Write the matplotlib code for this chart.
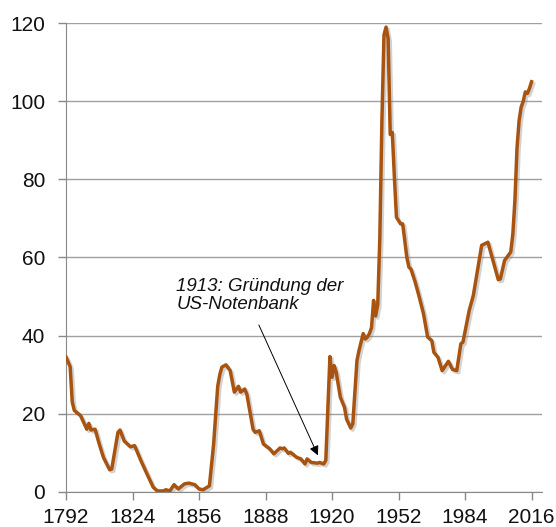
import matplotlib.pyplot as plt
import matplotlib.patheffects as pe

plt.rcParams['font.family'] = ['Liberation Sans', 'DejaVu Sans']

# Staatsverschuldung USA in % des BIP
years = [1792, 1794, 1795, 1796, 1799, 1802, 1803, 1804, 1806, 1808, 1810, 1813, 1814,
         1817, 1818, 1820, 1823, 1825, 1828, 1831, 1834, 1836, 1839, 1840, 1842, 1844,
         1846, 1849, 1851, 1854, 1856, 1858, 1861, 1863, 1865, 1866, 1867, 1869, 1871,
         1873, 1875, 1876, 1878, 1879, 1882, 1883, 1885, 1887, 1890, 1892, 1895, 1896,
         1897, 1899, 1900, 1903, 1905, 1907, 1908, 1910, 1913, 1914, 1916, 1917, 1919,
         1920, 1921, 1922, 1924, 1926, 1927, 1929, 1930, 1932, 1933, 1935, 1936, 1937,
         1938, 1939, 1940, 1941, 1942, 1943, 1944, 1945, 1946, 1947, 1948, 1949, 1950,
         1951, 1953, 1954, 1956, 1957, 1958, 1960, 1962, 1964, 1966, 1968, 1969, 1971,
         1973, 1976, 1978, 1980, 1982, 1983, 1986, 1988, 1992, 1995, 1997, 2000, 2001,
         2003, 2006, 2007, 2008, 2009, 2010, 2011, 2012, 2013, 2014, 2015, 2016]
debt = [34.5, 32, 23, 20.8, 19.5, 16, 17.5, 15.8, 16, 12.2, 8.8, 5.6, 5.8,
        15.2, 15.8, 13, 11.5, 11.8, 8, 4.5, 1.1, 0.2, 0.2, 0.5, 0.2, 1.8,
        0.7, 2, 2.2, 1.8, 0.7, 0.5, 1.5, 12, 27, 30, 31.9, 32.5, 31,
        25.5, 27, 25.5, 26.3, 25, 16, 15.2, 15.6, 12.2, 11, 9.7, 11.2, 11,
        11.2, 9.8, 10.1, 8.8, 8.4, 7.1, 8.4, 7.5, 7.3, 7.5, 7.1, 8, 34.6,
        29.3, 32.3, 30.6, 24.2, 21.6, 18.6, 16.3, 17.4, 33.6, 36.2, 40.5, 39.1, 39.6,
        40.5, 42, 49, 45, 48, 65, 95, 117, 119, 116, 91.5, 92, 80.6,
        70.3, 68.6, 68.6, 60, 57.5, 57, 53.7, 49.8, 45.6, 39.6, 38.7, 35.7, 34.4,
        31, 33.4, 31.3, 31, 37.9, 38.3, 46.4, 50.3, 63.1, 63.9, 60.1, 54.3, 54.5,
        59.2, 61.4, 66, 74.6, 88, 95, 98.5, 100, 102.4, 102, 103.3, 105]

xticks = [1792, 1824, 1856, 1888, 1920, 1952, 1984, 2016]
yticks = [0, 20, 40, 60, 80, 100, 120]

fig = plt.figure(figsize=(5.56, 5.27), dpi=100)
ax = fig.add_axes([0.1187, 0.067, 0.856, 0.889])

ax.plot(years, debt, color='#A8530F', lw=2.5, solid_joinstyle='round',
        path_effects=[pe.SimpleLineShadow(offset=(1.5, -1.5), shadow_color='gray', alpha=0.35),
                      pe.Normal()], zorder=3)

ax.set_xlim(1792, 2021)
ax.set_ylim(0, 120)
ax.set_xticks(xticks)
ax.set_yticks(yticks)
ax.tick_params(labelsize=15, colors='#888888', labelcolor='#111111', length=6, width=1)
ax.tick_params(axis='y', pad=9)
ax.tick_params(axis='x', pad=6)
ax.grid(axis='y', color='#a0a0a0', lw=1)
ax.set_axisbelow(True)
for s in ['top', 'right']:
    ax.spines[s].set_visible(False)
for s in ['left', 'bottom']:
    ax.spines[s].set_color('#888888')

ax.text(1845, 54.8, '1913: Gründung der\nUS-Notenbank', fontsize=13.5, style='italic',
        ha='left', va='top', linespacing=1.1, color='#111111')
ax.annotate('', xy=(1913.2, 9.3), xytext=(1884.8, 42.7),
            arrowprops=dict(arrowstyle='-|>', color='black', lw=0.7, mutation_scale=14,
                            shrinkA=0, shrinkB=0))

fig.savefig('out.png', dpi=100)
